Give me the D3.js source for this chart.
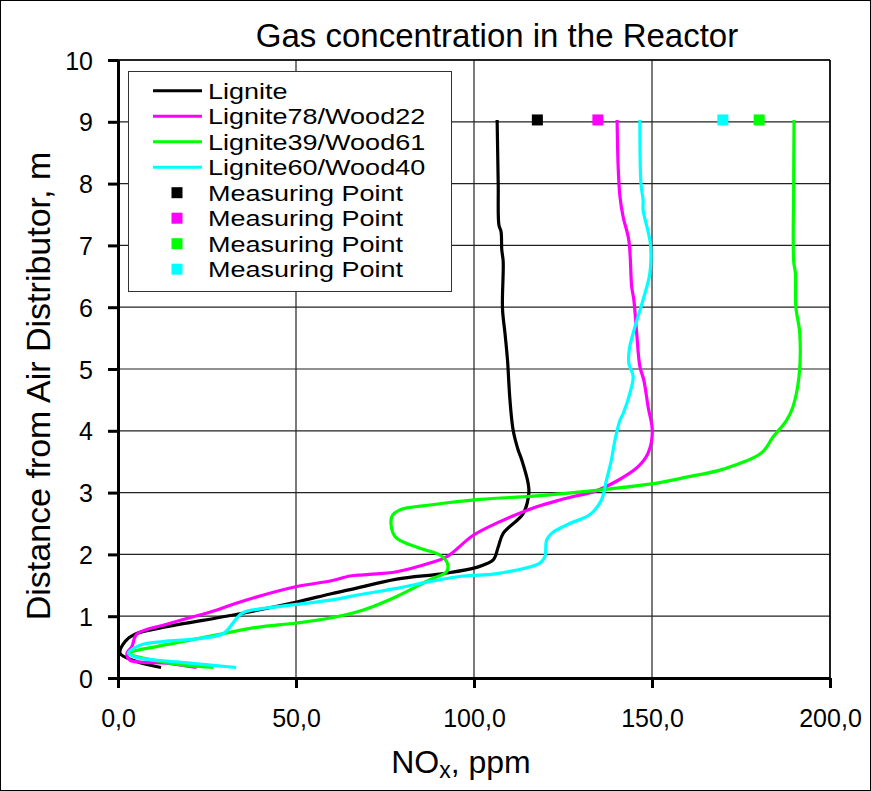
<!DOCTYPE html>
<html><head><meta charset="utf-8">
<script src="https://cdn.jsdelivr.net/npm/d3@7/dist/d3.min.js"></script>
<style>body{margin:0;background:#fff}svg{display:block;font-family:"Liberation Sans",Arial,sans-serif}</style>
</head><body><svg id="c" width="871" height="791"></svg>
<script>
const title = "Gas concentration in the Reactor";
const xTicks = [0, 50, 100, 150, 200];
const yTicks = [0,1,2,3,4,5,6,7,8,9,10];
const seriesNames = ["Lignite","Lignite78/Wood22","Lignite39/Wood61","Lignite60/Wood40"];
const seriesColors = ["#000000","#ff00ff","#00ff00","#00ffff"];
// [NOx ppm, distance m]
const lignite = [[12.1,0.17],[5,0.27],[0.6,0.40],[2.0,0.59],[4.8,0.71],[13.7,0.83],[32.4,1.02],[50.2,1.23],[59.6,1.36],[65.2,1.43],[78.3,1.60],[91.4,1.69],[100.7,1.79],[105.4,1.91],[106.8,2.12],[108.2,2.34],[113.8,2.66],[115.4,2.99],[115.2,3.15],[113.4,3.53],[112.4,3.69],[111.0,4.01],[110.1,4.50],[109.4,5.15],[108.7,5.58],[108.0,5.98],[108.2,6.74],[107.8,6.93],[107.6,7.22],[107.0,7.33],[106.8,8.0],[106.5,9.03]];
const lw7822 = [[22.1,0.17],[13.7,0.24],[3.4,0.29],[2.5,0.40],[3.9,0.51],[5.3,0.71],[13.7,0.87],[27.8,1.10],[34.3,1.23],[50.2,1.48],[59.6,1.57],[65.2,1.65],[68.9,1.67],[78.3,1.72],[87.6,1.86],[92.3,1.96],[99.8,2.31],[107.3,2.53],[117.6,2.77],[124.1,2.88],[129.7,2.96],[133.5,3.01],[140.5,3.20],[146.1,3.42],[148.9,3.64],[150.1,3.99],[148.9,4.39],[147.7,4.82],[146.6,5.04],[145.7,5.58],[144.9,6.12],[144.3,6.33],[143.5,7.08],[141.9,7.46],[141.0,7.79],[140.5,8.27],[140.2,9.03]];
const lw3961 = [[26.8,0.17],[13.7,0.25],[3.4,0.40],[11.8,0.52],[18.4,0.59],[29.6,0.72],[39.0,0.82],[50.2,0.89],[59.6,0.97],[68.9,1.10],[78.3,1.32],[87.6,1.59],[92.3,1.72],[92.5,1.86],[90.4,1.99],[84.8,2.10],[77.8,2.29],[76.9,2.61],[79.2,2.72],[87.6,2.80],[101.7,2.89],[115.7,2.94],[124.1,2.98],[138.2,3.06],[149.9,3.14],[159.7,3.25],[170.0,3.38],[180.7,3.64],[184.0,3.90],[187.8,4.17],[189.6,4.39],[191.3,4.88],[191.5,5.58],[190.4,6.01],[190.3,6.55],[189.8,6.74],[189.8,8.0],[189.9,9.03]];
const lw6040 = [[33.2,0.17],[16.5,0.26],[5.3,0.33],[2.9,0.40],[4.4,0.48],[7.2,0.55],[12.8,0.59],[23.1,0.64],[29.6,0.72],[33.4,0.97],[35.2,1.06],[50.2,1.19],[59.6,1.26],[68.9,1.36],[78.3,1.45],[87.6,1.56],[97.0,1.65],[106.4,1.69],[118.5,1.86],[119.9,1.96],[120.4,2.23],[121.8,2.34],[126.9,2.50],[132.5,2.64],[135.8,2.88],[137.2,3.20],[138.6,3.53],[139.6,3.85],[141.0,4.17],[141.9,4.28],[143.8,4.61],[144.7,4.88],[143.5,5.09],[143.6,5.31],[145.2,5.68],[147.5,6.12],[149.4,6.55],[149.6,7.0],[148.8,7.25],[147.5,7.57],[147.5,7.73],[146.9,8.0],[146.6,9.03]];
const measureNOx = [117.8, 134.8, 180.1, 169.9];
const measureDist = [9.03, 9.03, 9.03, 9.03];
const measureLabel = "Measuring Point";

const svg = d3.select("#c");
const x = d3.scaleLinear().domain([0,200]).range([118,830]);
const y = d3.scaleLinear().domain([0,10]).range([678,60]);

svg.append("rect").attr("x",0.5).attr("y",0.5).attr("width",870).attr("height",790).attr("fill","#fff").attr("stroke","#000");

// grid
svg.append("g").selectAll("line").data(yTicks.filter(d=>d>0)).join("line")
  .attr("x1",x(0)).attr("x2",x(200)).attr("y1",d=>y(d)).attr("y2",d=>y(d)).attr("stroke","#222").attr("stroke-width",1.2);
svg.append("g").selectAll("line").data(xTicks.filter(d=>d>0)).join("line")
  .attr("y1",y(0)).attr("y2",y(10)).attr("x1",d=>x(d)).attr("x2",d=>x(d)).attr("stroke","#222").attr("stroke-width",1.2);
svg.append("line").attr("x1",x(0)).attr("x2",x(200)).attr("y1",y(10)).attr("y2",y(10)).attr("stroke","#000").attr("stroke-width",1.5);
svg.append("line").attr("x1",x(200)).attr("x2",x(200)).attr("y1",y(0)).attr("y2",y(10)).attr("stroke","#000").attr("stroke-width",1.5);

// axes
const fmt = d => d3.format(".1f")(d).replace(".", ",");
const gx = svg.append("g").attr("transform",`translate(0,${y(0)})`)
  .call(d3.axisBottom(x).tickValues(xTicks).tickFormat(fmt).tickSize(10).tickSizeOuter(0).tickPadding(21));
const gy = svg.append("g").attr("transform",`translate(${x(0)},0)`)
  .call(d3.axisLeft(y).tickValues(yTicks).tickFormat(d3.format("d")).tickSize(10).tickSizeOuter(0).tickPadding(15));
[gx,gy].forEach(g=>{
  g.select(".domain").attr("stroke","#000").attr("stroke-width",3);
  g.selectAll(".tick line").attr("stroke","#000").attr("stroke-width",3);
  g.selectAll(".tick text").attr("fill","#000").attr("font-size",25).attr("font-family","Liberation Sans, Arial, sans-serif");
});
gy.selectAll(".tick text").attr("dy","0.36em");

// lines
const line = d3.line().x(d=>x(d[0])).y(d=>y(d[1])).curve(d3.curveCatmullRom.alpha(0.5));
const allSeries = [lignite, lw7822, lw3961, lw6040];
svg.append("g").selectAll("path").data(allSeries).join("path")
  .attr("d",line).attr("fill","none").attr("stroke",(d,i)=>seriesColors[i]).attr("stroke-width",3.2).attr("stroke-linejoin","round");

// measuring points
const ms = 11;
svg.append("g").selectAll("rect").data(measureNOx).join("rect")
  .attr("x",(d)=>x(d)-ms/2).attr("y",(d,i)=>y(measureDist[i])-ms/2).attr("width",ms).attr("height",ms)
  .attr("fill",(d,i)=>seriesColors[i]);

// title
svg.append("text").attr("x",497).attr("y",47).attr("text-anchor","middle").attr("font-size",33).text(title);
// x title
const xt = svg.append("text").attr("x",461).attr("y",773).attr("text-anchor","middle").attr("font-size",32);
xt.append("tspan").text("NO");
xt.append("tspan").attr("font-size",23).attr("dy",5).text("x");
xt.append("tspan").attr("dy",-5).text(", ppm");
// y title
svg.append("text").attr("transform","translate(50,386) rotate(-90)").attr("text-anchor","middle").attr("font-size",34).text("Distance from Air Distributor, m");

// legend
const lg = svg.append("g");
lg.append("rect").attr("x",128.5).attr("y",71.5).attr("width",323).attr("height",220).attr("fill","#fff").attr("stroke","#333").attr("stroke-width",1);
const rowY = i => 90.7 + i*25.5;
const legFont = 22.5, legScale = 27/22.5;
function legText(xx, yy, s){
  const t = lg.append("text").attr("x",xx).attr("y",yy).attr("font-size",legFont).text(s);
  const w = t.node().getComputedTextLength();
  t.attr("textLength", w*legScale).attr("lengthAdjust","spacingAndGlyphs");
}
seriesNames.forEach((n,i)=>{
  lg.append("line").attr("x1",153).attr("x2",202).attr("y1",rowY(i)).attr("y2",rowY(i)).attr("stroke",seriesColors[i]).attr("stroke-width",3);
  legText(208, rowY(i)+7.8, n);
});
measureNOx.forEach((d,i)=>{
  const r = i+4;
  lg.append("rect").attr("x",177-ms/2).attr("y",rowY(r)-ms/2).attr("width",ms).attr("height",ms).attr("fill",seriesColors[i]);
  legText(208, rowY(r)+7.8, measureLabel);
});
</script></body></html>
